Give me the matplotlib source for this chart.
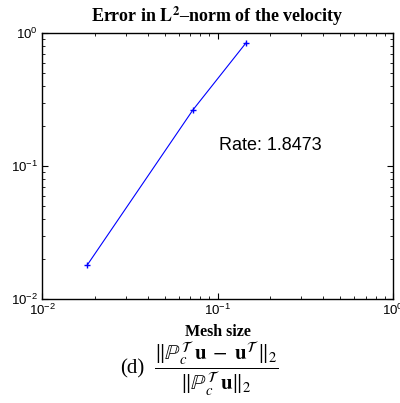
import numpy as np
import matplotlib
matplotlib.use("Agg")
import matplotlib.pyplot as plt
from matplotlib.ticker import LogLocator, NullFormatter

plt.rcParams['mathtext.fontset'] = 'stix'

# mesh sizes and relative L2 errors of the velocity
meshSize = [0.0181, 0.0724, 0.145]
errorL2 = [0.0180, 0.264, 0.84]
rate = 1.8473

fig = plt.figure(figsize=(4.0, 4.03), dpi=100)
ax = fig.add_axes([0.105, 0.258, 0.8775, 0.660])

ax.loglog(meshSize, errorL2, color='blue', marker='+', markersize=5, linewidth=0.8)
ax.set_xlim(1e-2, 1e0)
ax.set_ylim(1e-2, 1e0)

ax.text(0.102, 0.132, 'Rate: %.4f' % rate, fontsize=13, family='Liberation Sans')

ax.set_title(r'Error in $\mathbf{L}^{\mathbf{2}}$–norm of the velocity',
             fontsize=13, fontweight='bold', family='Liberation Serif', pad=8)
ax.set_xlabel('Mesh size', fontsize=11.5, fontweight='bold', family='Liberation Serif', labelpad=4)

# matlab style box with ticks on all sides
ax.tick_params(which='both', direction='in', top=True, right=True)
ax.tick_params(which='major', length=4, labelsize=9.5, pad=3)
ax.tick_params(which='minor', length=2)
ax.xaxis.set_minor_locator(LogLocator(base=10, subs=np.arange(2, 10)))
ax.yaxis.set_minor_locator(LogLocator(base=10, subs=np.arange(2, 10)))
ax.xaxis.set_minor_formatter(NullFormatter())
ax.yaxis.set_minor_formatter(NullFormatter())
for lab in ax.get_xticklabels() + ax.get_yticklabels():
    lab.set_family('Liberation Sans')
for sp in ax.spines.values():
    sp.set_linewidth(1.0)

fig.text(0.30, 0.084, '(d)', fontsize=15, family='Liberation Serif', va='center')
fig.text(0.385, 0.084,
         r'$\dfrac{\|\mathbb{P}_{c}^{\mathcal{T}}\;\mathbf{u}\;-\;\mathbf{u}^{\mathcal{T}}\,\|_2}{\|\mathbb{P}_{c}^{\mathcal{T}}\;\mathbf{u}\|_2}$',
         fontsize=15, va='center')

plt.savefig('out.png', dpi=100)
